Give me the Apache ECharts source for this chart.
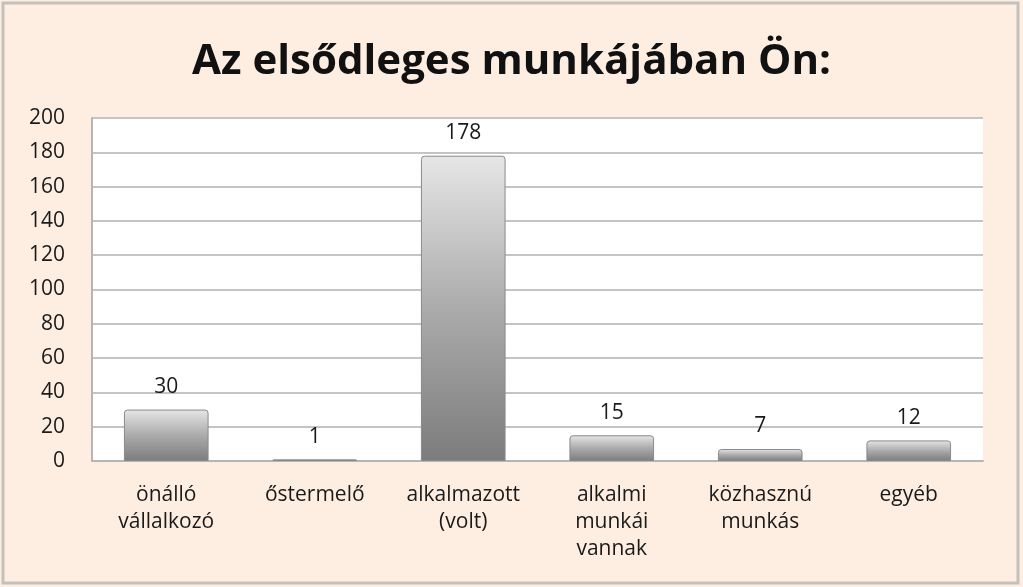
<!DOCTYPE html>
<html><head><meta charset="utf-8">
<script src="https://cdn.jsdelivr.net/npm/echarts@6/dist/echarts.min.js"></script>
<style>html,body{margin:0;padding:0;background:#fff}#c{width:1023px;height:587px}</style>
</head><body><div id="c"></div>
<script>
var categories = ['önálló\nvállalkozó', 'őstermelő', 'alkalmazott\n(volt)', 'alkalmi\nmunkái\nvannak', 'közhasznú\nmunkás', 'egyéb'];
var values = [30, 1, 178, 15, 7, 12];
var yTicks = {min: 0, max: 200, interval: 20};

var chart = echarts.init(document.getElementById('c'));
var barColor = new echarts.graphic.LinearGradient(0, 0, 0, 1, [
  {offset: 0, color: '#e6e6e6'},
  {offset: 0.5, color: '#ababab'},
  {offset: 1, color: '#7c7c7c'}
]);
chart.setOption({
  backgroundColor: '#fdeee1',
  animation: false,
  title: {
    text: 'Az elsődleges munkájában Ön:',
    left: 'center', top: 36,
    textStyle: {fontFamily: 'Open Sans', fontWeight: 'bold', fontSize: 42, color: '#111'}
  },
  graphic: [{
    type: 'rect', shape: {x: 3, y: 3, width: 1015, height: 580},
    style: {fill: 'none', stroke: '#c4c0bc', lineWidth: 3}, silent: true, z: 100
  }],
  grid: {left: 92, right: 40, top: 118, bottom: 126, show: true, backgroundColor: '#fff', borderColor: '#fff', borderWidth: 0},
  xAxis: {
    type: 'category', data: categories,
    axisLine: {lineStyle: {color: '#b5b5b5', width: 2}},
    axisTick: {show: false},
    axisLabel: {fontFamily: 'Open Sans', fontSize: 21, color: '#1a1a1a', lineHeight: 27, margin: 21, interval: 0}
  },
  yAxis: {
    type: 'value', min: yTicks.min, max: yTicks.max, interval: yTicks.interval,
    axisLine: {show: true, lineStyle: {color: '#b5b5b5', width: 2}},
    axisTick: {show: false},
    splitLine: {lineStyle: {color: '#c4c4c4', width: 2}},
    axisLabel: {fontFamily: 'Open Sans', fontSize: 21, color: '#1a1a1a', margin: 27}
  },
  series: [{
    type: 'bar', data: values, barCategoryGap: '43%',
    itemStyle: {color: barColor, borderColor: '#8a8a8a', borderWidth: 1, borderRadius: [3, 3, 0, 0]},
    label: {show: true, position: 'top', distance: 12, fontFamily: 'Open Sans', fontSize: 21, color: '#1a1a1a'}
  }]
});
</script></body></html>
